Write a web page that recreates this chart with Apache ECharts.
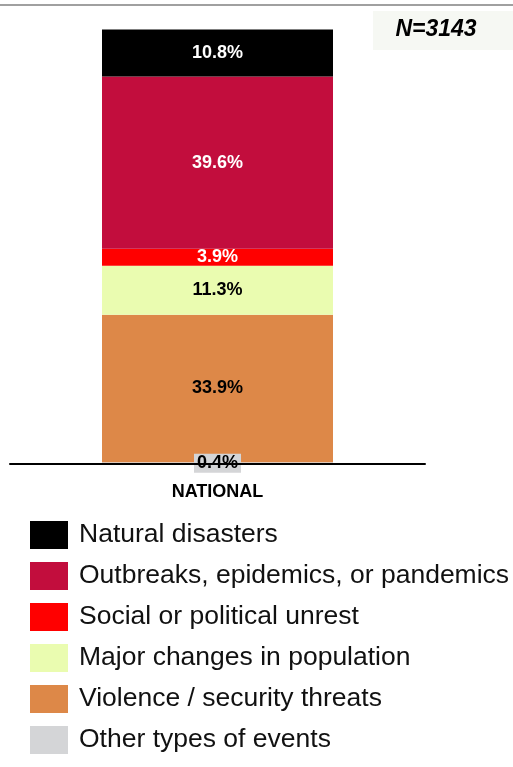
<!DOCTYPE html>
<html>
<head>
<meta charset="utf-8">
<script src="https://cdn.jsdelivr.net/npm/echarts@6/dist/echarts.min.js"></script>
<style>
  html, body { margin: 0; padding: 0; background: #fff; }
  #chart { width: 513px; height: 767px; }
</style>
</head>
<body>
<div id="chart"></div>
<script>
// Event types, stacked from the bottom of the bar upwards
const categories = ['NATIONAL'];
const seriesNames = [
  'Other types of events',
  'Violence / security threats',
  'Major changes in population',
  'Social or political unrest',
  'Outbreaks, epidemics, or pandemics',
  'Natural disasters'
];
const seriesValues = [0.4, 33.9, 11.3, 3.9, 39.6, 10.8];
const seriesColors = ['#D4D5D7', '#DD8848', '#EAFCB0', '#FF0000', '#C20D3D', '#000000'];
const labelColors = ['#000', '#000', '#000', '#fff', '#fff', '#fff'];
const legendOrder = [
  'Natural disasters',
  'Outbreaks, epidemics, or pandemics',
  'Social or political unrest',
  'Major changes in population',
  'Violence / security threats',
  'Other types of events'
];
const sampleNote = 'N=3143';

const FONT = '"Liberation Sans", Arial, sans-serif';

const series = seriesNames.map((name, i) => {
  const label = {
    show: true,
    position: 'inside',
    formatter: p => p.value.toFixed(1) + '%',
    color: labelColors[i],
    fontFamily: FONT,
    fontWeight: 'bold',
    fontSize: 18
  };
  if (i === 0) {
    // tiny slice: label sits on a grey tag over the baseline
    label.backgroundColor = '#D4D5D7';
    label.padding = [1, 3, 0, 3];
  }
  return {
    name,
    type: 'bar',
    stack: 'total',
    barWidth: 231,
    itemStyle: { color: seriesColors[i] },
    label,
    data: [seriesValues[i]]
  };
});

const chart = echarts.init(document.getElementById('chart'), null, { renderer: 'canvas' });
chart.setOption({
  animation: false,
  backgroundColor: '#fff',
  grid: { left: 10, right: 88, top: 29, bottom: 303, containLabel: false },
  xAxis: {
    type: 'category',
    data: categories,
    axisLine: { show: true, lineStyle: { color: '#000', width: 2 } },
    axisTick: { show: false },
    axisLabel: {
      color: '#000',
      fontFamily: FONT,
      fontWeight: 'bold',
      fontSize: 18,
      margin: 19
    },
    z: 10
  },
  yAxis: {
    type: 'value',
    min: 0,
    max: 100,
    show: false
  },
  legend: {
    orient: 'vertical',
    left: 25,
    top: 516,
    data: legendOrder,
    icon: 'rect',
    itemWidth: 38,
    itemHeight: 28,
    itemGap: 13,
    selectedMode: false,
    textStyle: {
      fontFamily: FONT,
      fontSize: 26.5,
      lineHeight: 28,
      color: '#111',
      padding: [0, 0, 0, 6]
    }
  },
  graphic: [
    {
      type: 'rect',
      shape: { x: 0, y: 4, width: 513, height: 2 },
      style: { fill: '#A0A0A0' },
      silent: true
    },
    {
      type: 'rect',
      shape: { x: 373, y: 11, width: 140, height: 39 },
      style: { fill: '#F6F8F3' },
      silent: true
    },
    {
      type: 'text',
      x: 436,
      y: 30,
      style: {
        text: sampleNote,
        fill: '#000',
        font: 'italic bold 23px ' + FONT,
        textAlign: 'center',
        textVerticalAlign: 'middle'
      },
      silent: true
    }
  ],
  series
});
</script>
</body>
</html>
